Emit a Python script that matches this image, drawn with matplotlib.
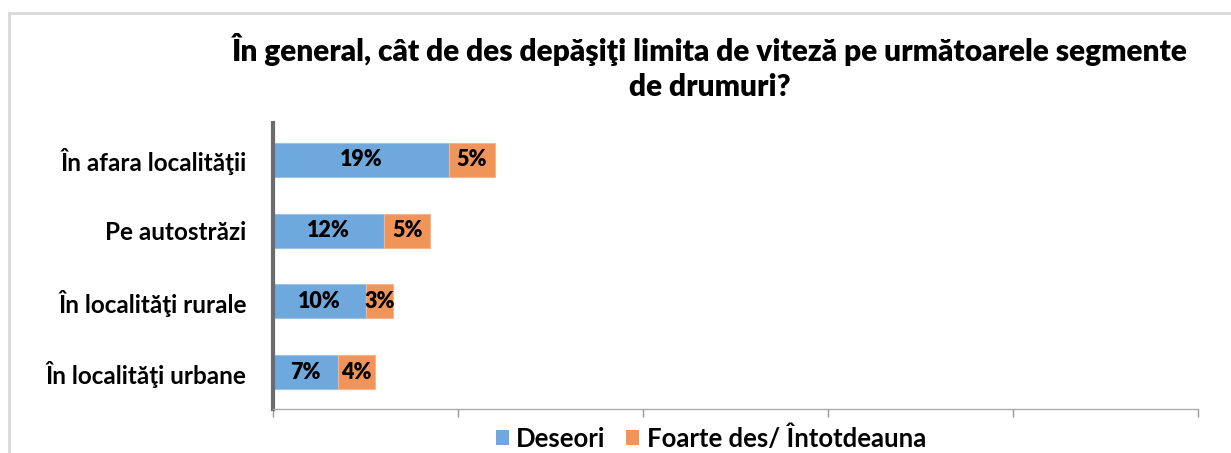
import matplotlib
matplotlib.use("Agg")
import matplotlib.pyplot as plt
from matplotlib.lines import Line2D
from matplotlib.patches import Patch

plt.rcParams['font.family'] = ['Lato', 'DejaVu Sans']

categories = ["În afara localităţii", "Pe autostrăzi", "În localităţi rurale", "În localităţi urbane"]
deseori = [19, 12, 10, 7]
foarte_des = [5, 5, 3, 4]
series_names = ["Deseori", "Foarte des/ Întotdeauna"]
title_lines = ["În general, cât de des depăşiţi limita de viteză pe următoarele segmente",
               "de drumuri?"]

blue = "#6FA8DC"
orange = "#F0945A"

fig = plt.figure(figsize=(12.31, 4.53), dpi=100)
ax = fig.add_axes([273/1231, 1 - 409/453, (1198 - 273)/1231, (409 - 123)/453])

y = list(range(len(categories)))
bars1 = ax.barh(y, deseori, height=0.48, color=blue, edgecolor="#9cc3e6", linewidth=0.8)
bars2 = ax.barh(y, foarte_des, left=deseori, height=0.48, color=orange, edgecolor="#f5b48a", linewidth=0.8)

for bars, vals in ((bars1, deseori), (bars2, foarte_des)):
    ax.bar_label(bars, labels=[f"{v}%" for v in vals], label_type="center",
                 fontsize=15.5, fontweight="heavy", color="black")

ax.set_xlim(0, 100)
ax.set_ylim(3.52, -0.52)
ax.set_xticks([0, 20, 40, 60, 80, 100])
ax.set_xticklabels([])
ax.set_yticks(y)
ax.set_yticklabels(categories, fontsize=17.5, fontweight="bold")
ax.tick_params(axis="y", length=0, pad=19)
ax.tick_params(axis="x", direction="out", length=6, color="#999999", width=1)

for s in ("top", "right"):
    ax.spines[s].set_visible(False)
ax.spines["left"].set_color("#6b6b6b")
ax.spines["left"].set_linewidth(3)
ax.spines["bottom"].set_color("#aaaaaa")
ax.spines["bottom"].set_linewidth(1)

for text, ypix in zip(title_lines, (50, 87)):
    fig.text(710/1231, 1 - ypix/453, text, ha="center", va="center",
             fontsize=21.5, fontweight="heavy")

handles = [Patch(facecolor=blue, edgecolor="none"), Patch(facecolor=orange, edgecolor="none")]
fig.legend(handles, series_names, loc="center", bbox_to_anchor=(711/1231, 1 - 438/453),
           ncol=2, frameon=False, prop={"size": 18.5, "weight": "bold"},
           handlelength=0.5, handleheight=0.5, handletextpad=0.3, columnspacing=0.8)

# frame lines along the top and left edges
fig.add_artist(Line2D([9/1231, 1], [1 - 13/453, 1 - 13/453], transform=fig.transFigure,
                      color="#d9d9d9", linewidth=2))
fig.add_artist(Line2D([9/1231, 9/1231], [0, 1 - 13/453], transform=fig.transFigure,
                      color="#d9d9d9", linewidth=2))

fig.savefig("out.png", dpi=100)
